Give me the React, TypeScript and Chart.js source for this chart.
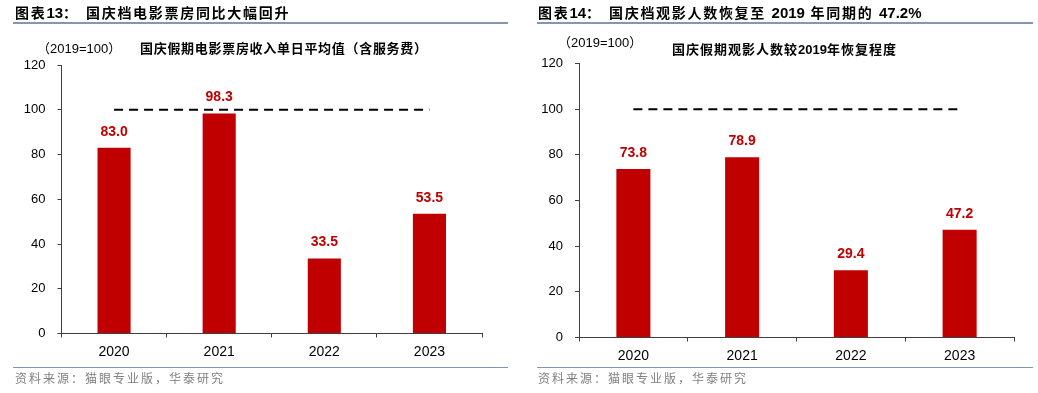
import React, { useEffect, useRef } from "react";
import { Chart, registerables } from "chart.js";

Chart.register(...registerables);

// ---- data ----
const categories = ["2020", "2021", "2022", "2023"];
const boxOfficeIndex = [83.0, 98.3, 33.5, 53.5];
const attendanceIndex = [73.8, 78.9, 29.4, 47.2];
const baseline2019 = [100, 100, 100, 100];
const yMin = 0;
const yMax = 120;
const yStep = 20;

const leftTitleNo = ["图表", "13", "："];
const leftTitle = "国庆档电影票房同比大幅回升";
const rightTitleNo = ["图表", "14", "："];
const rightTitleParts = ["国庆档观影人数恢复至 ", "2019", " 年同期的 ", "47.2%"];
const unitLabel = "（2019=100）";
const leftChartTitle = "国庆假期电影票房收入单日平均值（含服务费）";
const rightChartTitleParts = ["国庆假期观影人数较", "2019", "年恢复程度"];
const sourceText = "资料来源：猫眼专业版，华泰研究";

const RED = "#C00000";
const AXIS = "#404040";
const SEP = "#8497B0";
const LATIN = "'Liberation Sans', Arial, 'Noto Sans CJK SC', sans-serif";

const valueLabelPlugin = {
  id: "valueLabels",
  afterDatasetsDraw(chart: any) {
    const ctx = chart.ctx;
    const meta = chart.getDatasetMeta(0);
    const data = chart.data.datasets[0].data as number[];
    ctx.save();
    ctx.font = "bold 14px 'Liberation Sans', Arial, sans-serif";
    ctx.fillStyle = RED;
    ctx.textAlign = "center";
    ctx.textBaseline = "middle";
    meta.data.forEach((bar: any, i: number) => {
      ctx.fillText(Number(data[i]).toFixed(1), bar.x, bar.y - 16);
    });
    ctx.restore();
  },
};

type PanelProps = {
  values: number[];
  width: number;
  height: number;
  pad: { left: number; right: number; top: number; bottom: number };
  barPct: number;
};

function BarPanel({ values, width, height, pad, barPct }: PanelProps) {
  const ref = useRef<HTMLCanvasElement | null>(null);
  useEffect(() => {
    if (!ref.current) return;
    const chart = new Chart(ref.current, {
      type: "bar",
      data: {
        labels: categories,
        datasets: [
          {
            type: "bar",
            data: values,
            backgroundColor: RED,
            borderWidth: 0,
            barPercentage: barPct,
            categoryPercentage: 1,
          } as any,
          {
            type: "line",
            data: baseline2019,
            borderColor: "#000000",
            borderWidth: 2,
            borderDash: [9, 6],
            pointRadius: 0,
            fill: false,
            tension: 0,
          } as any,
        ],
      },
      options: {
        responsive: false,
        animation: false,
        devicePixelRatio: 1,
        layout: { padding: pad },
        plugins: {
          legend: { display: false },
          tooltip: { enabled: false },
          title: { display: false },
        },
        scales: {
          x: {
            offset: true,
            grid: {
              offset: true,
              drawOnChartArea: false,
              drawTicks: true,
              tickLength: 4,
              color: AXIS,
            },
            border: { display: true, color: AXIS, width: 1 },
            ticks: {
              color: "#000",
              padding: 6,
              font: { family: LATIN, size: 14 },
            },
            afterFit: (s: any) => {
              s.height = 30;
            },
          },
          y: {
            min: yMin,
            max: yMax,
            grid: {
              drawOnChartArea: false,
              drawTicks: true,
              tickLength: 4,
              color: AXIS,
            },
            border: { display: true, color: AXIS, width: 1 },
            ticks: {
              stepSize: yStep,
              color: "#000",
              padding: 12,
              font: { family: LATIN, size: 13 },
            },
            afterFit: (s: any) => {
              s.width = 40;
            },
          },
        },
      },
      plugins: [valueLabelPlugin],
    } as any);
    return () => chart.destroy();
  }, []);
  return <canvas ref={ref} width={width} height={height} style={{ width, height, display: "block" }} />;
}

const abs = (left: number, top: number, extra: React.CSSProperties = {}): React.CSSProperties => ({
  position: "absolute",
  left,
  top,
  whiteSpace: "nowrap",
  lineHeight: "20px",
  height: 20,
  ...extra,
});

const isLatin = (s: string) => /^[0-9.%]+$/.test(s);

function Mixed({ parts, spacing, latinSize }: { parts: string[]; spacing: string; latinSize?: number }) {
  return (
    <>
      {parts.map((p, i) => (
        <span
          key={i}
          style={
            isLatin(p)
              ? { letterSpacing: "0px", fontSize: latinSize }
              : { letterSpacing: spacing }
          }
        >
          {p}
        </span>
      ))}
    </>
  );
}

export default function App() {
  const titleStyle: React.CSSProperties = {
    fontFamily: LATIN,
    fontWeight: 700,
    fontSize: 14,
    color: "#000",
  };
  const subStyle: React.CSSProperties = {
    fontFamily: LATIN,
    fontWeight: 700,
    fontSize: 13,
    color: "#000",
  };
  const unitStyle: React.CSSProperties = {
    fontFamily: LATIN,
    fontSize: 13,
    color: "#000",
  };
  const srcStyle: React.CSSProperties = {
    fontFamily: "'Noto Sans CJK SC', sans-serif",
    fontSize: 12,
    letterSpacing: "2px",
    color: "#808080",
  };
  return (
    <div
      style={{
        position: "fixed",
        left: 0,
        top: 0,
        width: 1038,
        height: 393,
        background: "#fff",
        overflow: "hidden",
      }}
    >
      {/* left panel */}
      <div style={{ position: "absolute", left: 0, top: 0 }}>
        <BarPanel
          values={boxOfficeIndex}
          width={520}
          height={393}
          pad={{ left: 21.5, right: 38, top: 65, bottom: 29.5 }}
          barPct={0.315}
        />
      </div>
      {/* right panel */}
      <div style={{ position: "absolute", left: 520, top: 0 }}>
        <BarPanel
          values={attendanceIndex}
          width={518}
          height={393}
          pad={{ left: 19, right: 24, top: 63.5, bottom: 25.5 }}
          barPct={0.313}
        />
      </div>

      {/* titles */}
      <div style={abs(15, 3, titleStyle)}>
        <Mixed parts={leftTitleNo} spacing="1.7px" latinSize={15} />
      </div>
      <div style={abs(86, 3, { ...titleStyle, letterSpacing: "1.7px" })}>{leftTitle}</div>
      <div style={abs(538, 3, titleStyle)}>
        <Mixed parts={rightTitleNo} spacing="1.7px" latinSize={15} />
      </div>
      <div style={abs(609, 3, titleStyle)}>
        <Mixed parts={rightTitleParts} spacing="1.7px" latinSize={15} />
      </div>

      {/* separators */}
      <div style={{ position: "absolute", left: 13, top: 22, width: 495, height: 1.5, background: SEP }} />
      <div style={{ position: "absolute", left: 537, top: 22, width: 496, height: 1.5, background: SEP }} />
      <div style={{ position: "absolute", left: 13, top: 366.5, width: 495, height: 1.2, background: SEP }} />
      <div style={{ position: "absolute", left: 537, top: 366.5, width: 496, height: 1.2, background: SEP }} />

      {/* chart subtitles */}
      <div style={abs(37, 39, unitStyle)}>{unitLabel}</div>
      <div style={abs(140, 39, { ...subStyle, letterSpacing: "0.7px" })}>{leftChartTitle}</div>
      <div style={abs(558, 33, unitStyle)}>{unitLabel}</div>
      <div style={abs(672, 40, subStyle)}>
        <Mixed parts={rightChartTitleParts} spacing="1px" />
      </div>

      {/* sources */}
      <div style={abs(15, 368, srcStyle)}>{sourceText}</div>
      <div style={abs(538, 368, srcStyle)}>{sourceText}</div>
    </div>
  );
}
